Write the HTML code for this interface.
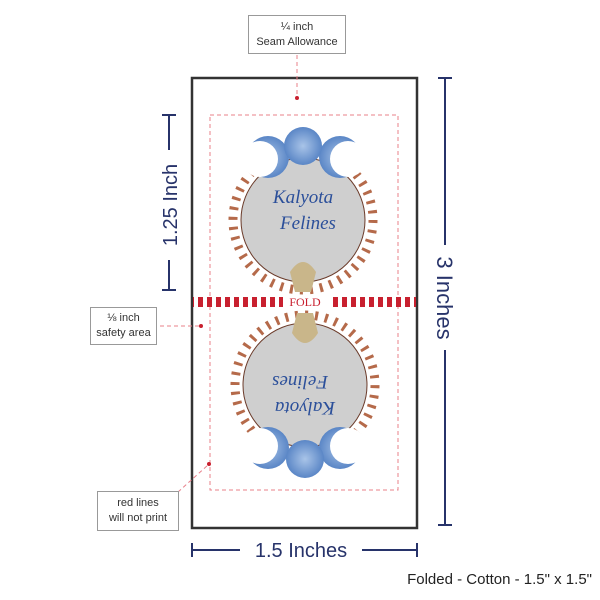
<!DOCTYPE html>
<html><head><style>
body{margin:0;width:600px;height:600px;background:#fff;position:relative;overflow:hidden;font-family:"Liberation Sans",sans-serif}
.box{position:absolute;border:1px solid #999;background:#fff;color:#333;font-size:11px;text-align:center;line-height:15px;box-sizing:border-box}
</style></head><body>
<svg width="600" height="600" style="position:absolute;left:0;top:0">
<defs>
<pattern id="st" width="9" height="12" patternUnits="userSpaceOnUse"><rect width="5" height="12" fill="#c8202f"/></pattern>
<radialGradient id="moon" cx="50%" cy="50%" r="50%"><stop offset="0" stop-color="#a9c4e8"/><stop offset="1" stop-color="#5a86c6"/></radialGradient>
<g id="design">
<circle cx="303" cy="220" r="70" fill="none" stroke="#b56a4a" stroke-width="9" stroke-dasharray="3,7"/>
<circle cx="303" cy="220" r="62" fill="#cfcfcf" stroke="#6b3b2a" stroke-width="1"/>
<circle cx="268" cy="157" r="21" fill="url(#moon)"/><circle cx="260" cy="159" r="18" fill="#fff"/>
<circle cx="340" cy="157" r="21" fill="url(#moon)"/><circle cx="348" cy="159" r="18" fill="#fff"/>
<circle cx="303" cy="146" r="19" fill="url(#moon)"/>
<path d="M290 272 q13 -20 26 0 l-5 20 h-16z" fill="#c9b68a"/>
<text x="303" y="203" font-family="Liberation Serif" font-style="italic" font-size="19" fill="#2b4f9a" text-anchor="middle">Kalyota</text>
<text x="308" y="229" font-family="Liberation Serif" font-style="italic" font-size="19" fill="#2b4f9a" text-anchor="middle">Felines</text>
</g>
</defs>
<rect x="192" y="78" width="225" height="450" fill="#fff" stroke="#333" stroke-width="2.5"/>
<rect x="210" y="115" width="188" height="375" fill="none" stroke="#e8808a" stroke-width="1" stroke-dasharray="4,3"/>
<line x1="297" y1="55" x2="297" y2="97" stroke="#e8808a" stroke-dasharray="4,3"/>
<circle cx="297" cy="98" r="2" fill="#c8202f"/>
<line x1="160" y1="326" x2="200" y2="326" stroke="#e8808a" stroke-dasharray="4,3"/>
<circle cx="201" cy="326" r="2" fill="#c8202f"/>
<line x1="178" y1="492" x2="208" y2="465" stroke="#e8808a" stroke-dasharray="4,3"/>
<circle cx="209" cy="464" r="2" fill="#c8202f"/>
<use href="#design"/>
<use href="#design" transform="rotate(180 304 302.5)"/>
<rect x="193" y="297" width="90" height="10" fill="url(#st)"/>
<rect x="331" y="297" width="85" height="10" fill="url(#st)"/>
<text x="305" y="306" font-family="Liberation Serif" font-size="12" fill="#c8202f" text-anchor="middle">FOLD</text>
<g stroke="#27336a" stroke-width="2" fill="none">
<line x1="162" y1="115" x2="176" y2="115"/><line x1="162" y1="290" x2="176" y2="290"/>
<line x1="169" y1="115" x2="169" y2="150"/><line x1="169" y1="260" x2="169" y2="290"/>
<line x1="438" y1="78" x2="452" y2="78"/><line x1="438" y1="525" x2="452" y2="525"/>
<line x1="445" y1="78" x2="445" y2="245"/><line x1="445" y1="350" x2="445" y2="525"/>
<line x1="192" y1="543" x2="192" y2="557"/><line x1="417" y1="543" x2="417" y2="557"/>
<line x1="192" y1="550" x2="240" y2="550"/><line x1="362" y1="550" x2="417" y2="550"/>
</g>
<text transform="translate(177 205) rotate(-90)" font-size="20" fill="#27336a" text-anchor="middle">1.25 Inch</text>
<text transform="translate(437 298) rotate(90)" font-size="22" fill="#27336a" text-anchor="middle">3 Inches</text>
<text x="301" y="557" font-size="20" fill="#27336a" text-anchor="middle">1.5 Inches</text>
<text x="592" y="584" font-size="15" fill="#222" text-anchor="end">Folded - Cotton - 1.5" x 1.5"</text>
</svg>
<div class="box" style="left:248px;top:15px;width:98px;height:39px;padding-top:4px">¼ inch<br>Seam Allowance</div>
<div class="box" style="left:90px;top:307px;width:67px;height:38px;padding-top:3px">⅛ inch<br>safety area</div>
<div class="box" style="left:97px;top:491px;width:82px;height:40px;padding-top:4px">red lines<br>will not print</div>
</body></html>
